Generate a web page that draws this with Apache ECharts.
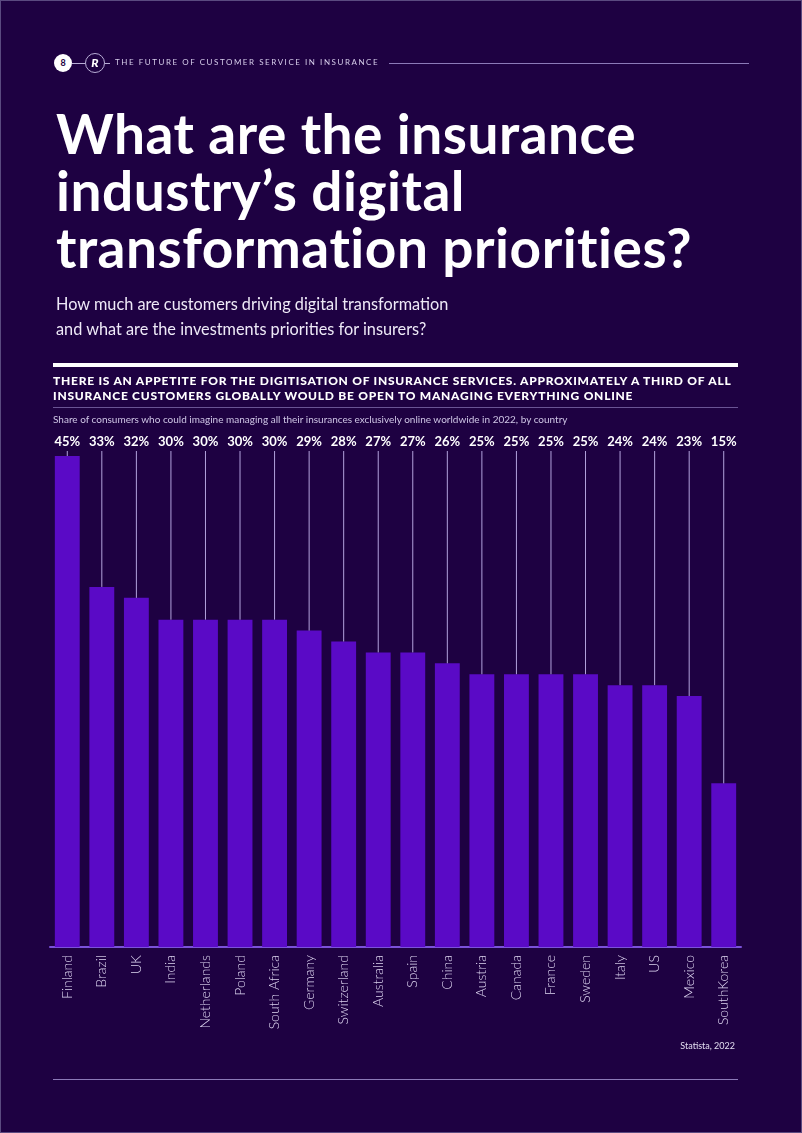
<!DOCTYPE html>
<html><head><meta charset="utf-8">
<script src="https://cdn.jsdelivr.net/npm/echarts@6/dist/echarts.min.js"></script>
<style>
html,body{margin:0;padding:0;background:#1e0142;}
#page{position:relative;width:802px;height:1133px;background:#1e0142;overflow:hidden;font-family:Lato,"Open Sans",sans-serif;color:#fff;box-sizing:border-box;border:1px solid #5a4a80;}
#chart{position:absolute;left:0;top:0;width:802px;height:1133px;}
.abs{position:absolute;white-space:nowrap;}
</style></head>
<body><div id="page">
<div id="chart"></div>
<div class="abs" style="left:53px;top:53px;width:18px;height:18px;border-radius:50%;background:#fff;color:#1e0142;font-size:9px;font-weight:700;text-align:center;line-height:18px;">8</div>
<div class="abs" style="left:71px;top:62px;width:13px;height:1px;background:#b9aed6;"></div>
<div class="abs" style="left:84px;top:52px;width:18px;height:18px;border-radius:50%;border:1px solid #b9aed6;color:#fff;font-size:12px;font-weight:900;text-align:center;line-height:18px;font-style:italic;">R</div>
<div class="abs" style="left:104px;top:62px;width:5px;height:1px;background:#b9aed6;"></div>
<div class="abs" style="left:114px;top:56px;font-size:8px;letter-spacing:1.55px;color:#d6cdea;">THE FUTURE OF CUSTOMER SERVICE IN INSURANCE</div>
<div class="abs" style="left:388px;top:62px;width:360px;height:1px;background:#8c7ab8;"></div>
<div class="abs" style="left:55px;top:104px;font-size:55px;font-weight:700;line-height:57px;letter-spacing:0.5px;">What are the insurance<br>industry’s digital<br>transformation priorities?</div>
<div class="abs" style="left:55px;top:290px;font-size:16.3px;line-height:25px;color:#eee9f7;">How much are customers driving digital transformation<br>and what are the investments priorities for insurers?</div>
<div class="abs" style="left:52px;top:362px;width:685px;height:4px;background:#fff;"></div>
<div class="abs" style="left:52px;top:372px;font-size:12px;font-weight:900;line-height:15px;letter-spacing:0.75px;">THERE IS AN APPETITE FOR THE DIGITISATION OF INSURANCE SERVICES. APPROXIMATELY A THIRD OF ALL<br>INSURANCE CUSTOMERS GLOBALLY WOULD BE OPEN TO MANAGING EVERYTHING ONLINE</div>
<div class="abs" style="left:52px;top:406px;width:685px;height:1px;background:#6a5494;"></div>
<div class="abs" style="left:52px;top:412px;font-size:10px;color:#cfc6e6;">Share of consumers who could imagine managing all their insurances exclusively online worldwide in 2022, by country</div>
<div class="abs" style="right:66px;top:1039px;font-size:9px;color:#e2dcf0;">Statista, 2022</div>
<div class="abs" style="left:52px;top:1078px;width:685px;height:1px;background:#8c7ab8;"></div>
</div>
<script>
const countries = ["Finland","Brazil","UK","India","Netherlands","Poland","South Africa","Germany","Switzerland","Australia","Spain","China","Austria","Canada","France","Sweden","Italy","US","Mexico","SouthKorea"];
const shares = [45,33,32,30,30,30,30,29,28,27,27,26,25,25,25,25,24,24,23,15];
const valueLabels = ["45%","33%","32%","30%","30%","30%","30%","29%","28%","27%","27%","26%","25%","25%","25%","25%","24%","24%","23%","15%"];

const chart = echarts.init(document.getElementById('chart'), null, {renderer:'canvas'});
const GRID_TOP = 455;
chart.setOption({
  backgroundColor: 'transparent',
  animation: false,
  grid: {left: 49, right: 62, top: GRID_TOP, bottom: 187, containLabel: false},
  xAxis: {
    type: 'category', data: countries,
    axisLine: {show: true, lineStyle: {color: '#7b52da', width: 2}},
    axisTick: {show: false},
    axisLabel: {rotate: 90, interval: 0, color: '#ddd5f0', fontSize: 14, fontWeight: 300, fontFamily: 'Lato, sans-serif', margin: 8}
  },
  yAxis: {type: 'value', min: 0, max: 45, show: false, splitLine: {show: false}},
  series: [
    {type: 'bar', data: shares, barCategoryGap: '28%', itemStyle: {color: '#5a0ac6'}, z: 2},
    {type: 'custom', clip: false, z: 3,
     data: shares.map((v, i) => [i, v]),
     encode: {x: 0, y: 1},
     renderItem: function (params, api) {
       const i = api.value(0);
       const p = api.coord([i, api.value(1)]);
       return {type: 'group', children: [
         {type: 'line', shape: {x1: p[0], y1: 450, x2: p[0], y2: p[1]}, style: {stroke: '#b3a3dd', lineWidth: 1}},
         {type: 'text', style: {text: valueLabels[i], x: p[0], y: 441, align: 'center', verticalAlign: 'middle', fill: '#ffffff', font: '700 13px Lato, sans-serif'}}
       ]};
     }
    }
  ]
});
</script>
</body></html>
